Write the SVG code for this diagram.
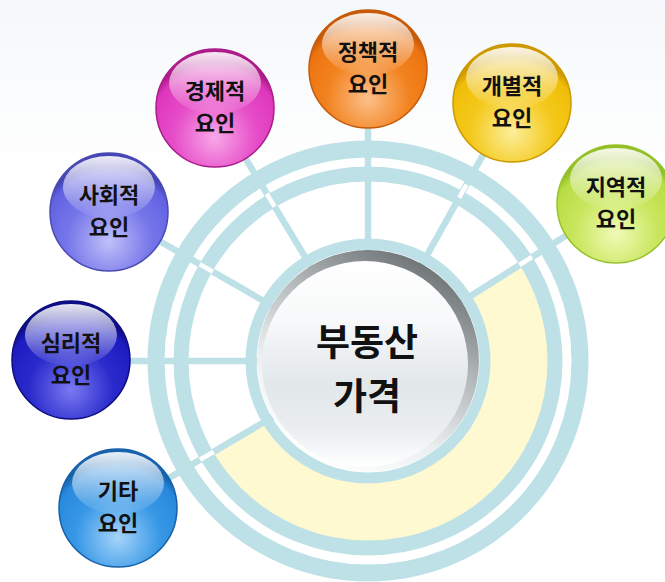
<svg xmlns="http://www.w3.org/2000/svg" width="665" height="582" viewBox="0 0 665 582">
<defs>
<style>
.ring{fill:none;stroke:#bde1e6}
.spoke{stroke:#bde1e6;stroke-width:6.5;stroke-linecap:butt}
.cut{stroke:#ffffff;stroke-width:4.5}
.lbl{font-family:"Noto Sans CJK KR","Noto Sans",sans-serif;font-weight:700;font-size:22px;fill:#111;text-anchor:middle}
.big{font-family:"Noto Sans CJK KR","Noto Sans",sans-serif;font-weight:700;font-size:37px;fill:#111;text-anchor:middle}
.hl{fill:url(#hl)}
</style>
<linearGradient id="bg" x1="0" y1="0" x2="0" y2="1">
<stop offset="0" stop-color="#f5f8fa"/><stop offset="0.3" stop-color="#ffffff"/><stop offset="1" stop-color="#ffffff"/>
</linearGradient>
<linearGradient id="hl" x1="0" y1="0" x2="0" y2="1">
<stop offset="0" stop-color="#ffffff" stop-opacity="0.9"/><stop offset="1" stop-color="#ffffff" stop-opacity="0.03"/>
</linearGradient>
<radialGradient id="gOrange" cx="50%" cy="75%" r="65%"><stop offset="0" stop-color="#fcc08a"/><stop offset="0.55" stop-color="#f2821e"/><stop offset="0.9" stop-color="#ec7410"/><stop offset="1" stop-color="#c85a06"/></radialGradient>
<radialGradient id="gYellow" cx="50%" cy="75%" r="65%"><stop offset="0" stop-color="#fcee9a"/><stop offset="0.55" stop-color="#f4c81a"/><stop offset="0.9" stop-color="#f0be08"/><stop offset="1" stop-color="#cf9a00"/></radialGradient>
<radialGradient id="gGreen" cx="50%" cy="75%" r="65%"><stop offset="0" stop-color="#f0fab8"/><stop offset="0.55" stop-color="#c8e65c"/><stop offset="0.9" stop-color="#b8dc44"/><stop offset="1" stop-color="#92c024"/></radialGradient>
<radialGradient id="gMagenta" cx="50%" cy="75%" r="65%"><stop offset="0" stop-color="#f8a8e8"/><stop offset="0.55" stop-color="#e64cc8"/><stop offset="0.9" stop-color="#de36bc"/><stop offset="1" stop-color="#ae1c8c"/></radialGradient>
<radialGradient id="gPeri" cx="50%" cy="75%" r="65%"><stop offset="0" stop-color="#c0c0fa"/><stop offset="0.55" stop-color="#7676ea"/><stop offset="0.9" stop-color="#6262e2"/><stop offset="1" stop-color="#4444b4"/></radialGradient>
<radialGradient id="gBlue" cx="50%" cy="75%" r="65%"><stop offset="0" stop-color="#7a7af2"/><stop offset="0.55" stop-color="#2a2acc"/><stop offset="0.9" stop-color="#1c1cc0"/><stop offset="1" stop-color="#0e0e88"/></radialGradient>
<radialGradient id="gSky" cx="50%" cy="75%" r="65%"><stop offset="0" stop-color="#a6d4fa"/><stop offset="0.55" stop-color="#3898e6"/><stop offset="0.9" stop-color="#2888dc"/><stop offset="1" stop-color="#1664ae"/></radialGradient>
<linearGradient id="bevel" x1="0.75" y1="0.05" x2="0.25" y2="0.95">
<stop offset="0" stop-color="#6e7376"/><stop offset="0.35" stop-color="#b3b8bb"/><stop offset="0.7" stop-color="#eceff0"/><stop offset="1" stop-color="#ffffff"/>
</linearGradient>
<linearGradient id="face" x1="0" y1="0" x2="0" y2="1">
<stop offset="0" stop-color="#ffffff"/><stop offset="0.3" stop-color="#f6f8f9"/><stop offset="0.6" stop-color="#e2e7ea"/><stop offset="0.82" stop-color="#eaeef0"/><stop offset="1" stop-color="#ffffff"/>
</linearGradient>
</defs>
<rect width="665" height="582" fill="url(#bg)"/>

<g id="background-band">
<path d="M526.1,261.1 A187,187 0 1 1 206.9,455.9 L267.2,420.4 A117,117 0 1 0 466.9,298.5 Z" fill="#fff9d2"/>
</g>

<g id="connectors">
<line class="spoke" x1="368" y1="361" x2="368" y2="69"/>
<line class="spoke" x1="368" y1="361" x2="512" y2="103"/>
<line class="spoke" x1="368" y1="361" x2="616" y2="204"/>
<line class="spoke" x1="368" y1="361" x2="215" y2="108"/>
<line class="spoke" x1="368" y1="361" x2="109" y2="212"/>
<line class="spoke" x1="368" y1="361" x2="71" y2="361"/>
<line class="spoke" x1="368" y1="361" x2="118" y2="508"/>
</g>

<g id="rings">
<circle class="ring" cx="368" cy="361" r="212" stroke-width="17"/>
<circle class="ring" cx="368" cy="361" r="187" stroke-width="15"/>
<line class="cut" x1="459.2" y1="197.8" x2="466.5" y2="184.7"/>
<line class="cut" x1="519.3" y1="265.0" x2="532.0" y2="257.0"/>
<line class="cut" x1="274.6" y1="206.6" x2="266.7" y2="193.8"/>
<line class="cut" x1="212.8" y1="271.8" x2="199.8" y2="264.3"/>
<line class="cut" x1="213.7" y1="451.7" x2="199.9" y2="459.8"/>
</g>

<g id="center">
<circle class="ring" cx="368" cy="361" r="117" stroke-width="11"/>
<circle cx="368" cy="361" r="111" fill="url(#bevel)"/>
<circle cx="365" cy="364" r="103" fill="url(#face)"/>
<text class="big"><tspan x="367" y="356">부동산</tspan><tspan x="367" y="410">가격</tspan></text>
</g>

<g id="n-policy">
<circle cx="368" cy="69" r="59" fill="url(#gOrange)" stroke="#c65a0a" stroke-width="1.5"/>
<ellipse class="hl" cx="368" cy="44" rx="46" ry="31"/>
<text class="lbl"><tspan x="368" y="60">정책적</tspan><tspan x="368" y="92">요인</tspan></text>
</g>

<g id="n-individual">
<circle cx="512" cy="103" r="59" fill="url(#gYellow)" stroke="#cc9800" stroke-width="1.5"/>
<ellipse class="hl" cx="512" cy="78" rx="46" ry="31"/>
<text class="lbl"><tspan x="512" y="94">개별적</tspan><tspan x="512" y="126">요인</tspan></text>
</g>

<g id="n-regional">
<circle cx="616" cy="204" r="59" fill="url(#gGreen)" stroke="#98c22c" stroke-width="1.5"/>
<ellipse class="hl" cx="616" cy="179" rx="46" ry="31"/>
<text class="lbl"><tspan x="616" y="195">지역적</tspan><tspan x="616" y="227">요인</tspan></text>
</g>

<g id="n-economic">
<circle cx="215" cy="108" r="59" fill="url(#gMagenta)" stroke="#aa1c88" stroke-width="1.5"/>
<ellipse class="hl" cx="215" cy="83" rx="46" ry="31"/>
<text class="lbl"><tspan x="215" y="99">경제적</tspan><tspan x="215" y="131">요인</tspan></text>
</g>

<g id="n-social">
<circle cx="109" cy="212" r="59" fill="url(#gPeri)" stroke="#4a4ab4" stroke-width="1.5"/>
<ellipse class="hl" cx="109" cy="187" rx="46" ry="31"/>
<text class="lbl"><tspan x="109" y="203">사회적</tspan><tspan x="109" y="235">요인</tspan></text>
</g>

<g id="n-psych">
<circle cx="71" cy="360" r="59" fill="url(#gBlue)" stroke="#0c0c80" stroke-width="1.5"/>
<ellipse class="hl" cx="71" cy="335" rx="46" ry="31"/>
<text class="lbl"><tspan x="71" y="351">심리적</tspan><tspan x="71" y="383">요인</tspan></text>
</g>

<g id="n-other">
<circle cx="118" cy="508" r="59" fill="url(#gSky)" stroke="#1660a8" stroke-width="1.5"/>
<ellipse class="hl" cx="118" cy="483" rx="46" ry="31"/>
<text class="lbl"><tspan x="118" y="499">기타</tspan><tspan x="118" y="531">요인</tspan></text>
</g>
</svg>
